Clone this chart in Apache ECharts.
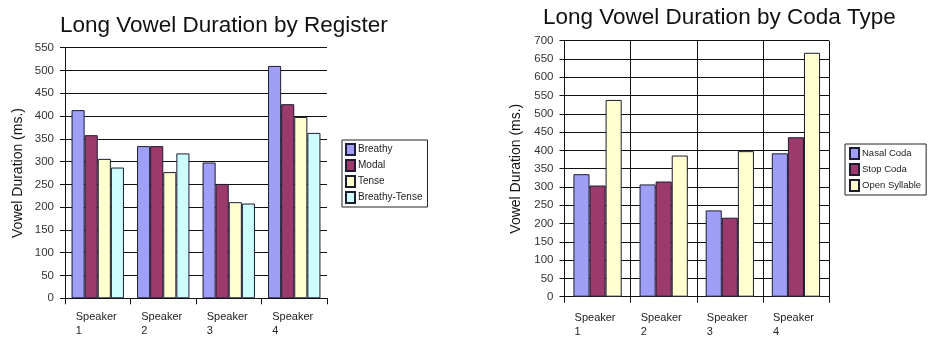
<!DOCTYPE html>
<html>
<head>
<meta charset="utf-8">
<script src="https://cdn.jsdelivr.net/npm/echarts@6/dist/echarts.min.js"></script>
<style>
  html, body { margin: 0; padding: 0; background: #fff; }
  #chart { width: 929px; height: 339px; }
</style>
</head>
<body>
<div id="chart"></div>
<script>
  // speakers shared by both charts
  const speakers = ['Speaker 1', 'Speaker 2', 'Speaker 3', 'Speaker 4']

  // by register (left)
  const breathy = [413, 334, 298, 510]
  const modal = [358, 334, 251, 426]
  const tense = [306, 277, 211, 398]
  const breathyTense = [287, 318, 208, 363]

  // by coda type (right)
  const nasalCoda = [335, 307, 236, 392]
  const stopCoda = [304, 315, 216, 436]
  const openSyllable = [538, 386, 398, 667]

  const font = 'Liberation Sans, Arial, sans-serif'
  const line = { color: '#111', width: 1 }

  function speakerLabel(width) {
    return {
      margin: 12,
      interval: 0,
      formatter: function (v) {
        const p = v.split(' ')
        return '{a|' + p[0] + '}\n{a|' + p[1] + '}'
      },
      rich: {
        a: { width: width, align: 'left', fontSize: 11, lineHeight: 14, color: '#222', fontFamily: font }
      }
    }
  }

  function bar(name, data, color, axis, gap) {
    return {
      name: name,
      type: 'bar',
      xAxisIndex: axis,
      yAxisIndex: axis,
      data: data,
      barGap: '0%',
      barCategoryGap: gap,
      itemStyle: { color: color, borderColor: '#1c1c33', borderWidth: 1 }
    }
  }

  const chart = echarts.init(document.getElementById('chart'))
  chart.setOption({
    animation: false,
    textStyle: { fontFamily: font },
    title: [
      { text: 'Long Vowel Duration by Register', left: 55, top: 9,
        textStyle: { fontSize: 22.5, fontWeight: 'normal', color: '#111', fontFamily: font } },
      { text: 'Long Vowel Duration by Coda Type', left: 538, top: 1,
        textStyle: { fontSize: 22.5, fontWeight: 'normal', color: '#111', fontFamily: font } }
    ],
    legend: [
      {
        data: ['Breathy', 'Modal', 'Tense', 'Breathy-Tense'],
        orient: 'vertical', left: 342, top: 140,
        itemWidth: 9, itemHeight: 11, itemGap: 3,
        padding: [3, 5, 3, 3],
        borderColor: '#222', borderWidth: 1,
        icon: 'rect',
        textStyle: { fontSize: 10, color: '#222', padding: [0, 0, 0, -2] }
      },
      {
        data: ['Nasal Coda', 'Stop Coda', 'Open Syllable'],
        orient: 'vertical', left: 845, top: 144,
        itemWidth: 9, itemHeight: 11, itemGap: 3,
        padding: [3, 5, 3, 4],
        borderColor: '#222', borderWidth: 1,
        icon: 'rect',
        textStyle: { fontSize: 9.5, color: '#222', padding: [0, 0, 0, -2] }
      }
    ],
    grid: [
      { left: 65, top: 47.7, width: 262, height: 250.6 },
      { left: 564.5, top: 40.7, width: 264.5, height: 256 }
    ],
    xAxis: [
      {
        type: 'category', gridIndex: 0, data: speakers,
        axisLine: { lineStyle: line },
        axisTick: { show: true, length: 6, lineStyle: line },
        axisLabel: speakerLabel(44),
        splitLine: { show: false }
      },
      {
        type: 'category', gridIndex: 1, data: speakers,
        axisLine: { lineStyle: line },
        axisTick: { show: true, length: 6, lineStyle: line },
        axisLabel: Object.assign(speakerLabel(46), { margin: 14 }),
        splitLine: { show: true, lineStyle: line }
      }
    ],
    yAxis: [
      {
        type: 'value', gridIndex: 0, min: 0, max: 550, interval: 50,
        name: 'Vowel Duration (ms.)', nameLocation: 'middle', nameGap: 40,
        nameTextStyle: { fontSize: 14, color: '#111', fontFamily: font },
        axisLine: { show: true, lineStyle: line },
        axisTick: { show: true, length: 5, lineStyle: line },
        axisLabel: { fontSize: 11.5, color: '#333', margin: 11 },
        splitLine: { lineStyle: line }
      },
      {
        type: 'value', gridIndex: 1, min: 0, max: 700, interval: 50,
        name: 'Vowel Duration (ms.)', nameLocation: 'middle', nameGap: 41,
        nameTextStyle: { fontSize: 14, color: '#111', fontFamily: font },
        axisLine: { show: true, lineStyle: line },
        axisTick: { show: true, length: 5, lineStyle: line },
        axisLabel: { fontSize: 11.5, color: '#333', margin: 11 },
        splitLine: { lineStyle: line }
      }
    ],
    series: [
      bar('Breathy', breathy, '#9f9ff7', 0, '20%'),
      bar('Modal', modal, '#9b3a6b', 0, '20%'),
      bar('Tense', tense, '#ffffd0', 0, '20%'),
      bar('Breathy-Tense', breathyTense, '#cdfdfd', 0, '20%'),
      bar('Nasal Coda', nasalCoda, '#9f9ff7', 1, '27%'),
      bar('Stop Coda', stopCoda, '#9b3a6b', 1, '27%'),
      bar('Open Syllable', openSyllable, '#ffffd0', 1, '27%')
    ]
  })
</script>
</body>
</html>
